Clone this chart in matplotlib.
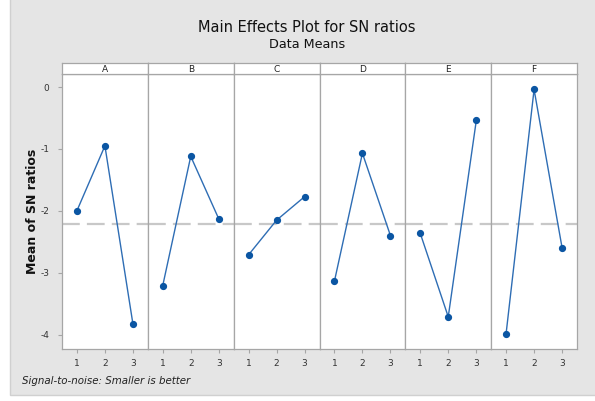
import numpy as np
import matplotlib.pyplot as plt
from matplotlib.patches import Rectangle

factors = ['A', 'B', 'C', 'D', 'E', 'F']
levels = [1, 2, 3]
sn_A = [-2.00, -0.95, -3.83]
sn_B = [-3.21, -1.12, -2.13]
sn_C = [-2.71, -2.15, -1.77]
sn_D = [-3.14, -1.07, -2.40]
sn_E = [-2.36, -3.71, -0.54]
sn_F = [-3.99, -0.04, -2.60]
yticks = [0, -1, -2, -3, -4]

series = [sn_A, sn_B, sn_C, sn_D, sn_E, sn_F]
grand_mean = np.mean(np.concatenate(series))

W, H = 595, 401
fig = plt.figure(figsize=(W / 100, H / 100), dpi=100)
fig.patch.set_facecolor('white')
# gray panel behind everything
fig.patches.append(Rectangle((10 / W, 6 / H), (W - 5) / W, (H + 5) / H,
                             transform=fig.transFigure, facecolor='#e5e5e5',
                             edgecolor='#d0d0d0', lw=1, zorder=-10))

x0, x1 = 62, 577
ytop, ybot, ystrip = 74, 349, 63
pw = (x1 - x0) / 6
line_c = '#2e6db4'
mark_c = '#0b56a3'
grid_c = '#a6a6a6'

for i, (name, vals) in enumerate(zip(factors, series)):
    left = x0 + i * pw
    ax = fig.add_axes([left / W, (H - ybot) / H, pw / W, (ybot - ytop) / H])
    ax.plot(levels, vals, color=line_c, lw=1, marker='o', ms=4.2,
            mfc=mark_c, mec=mark_c, zorder=3)
    ax.axhline(grand_mean, color='#c8c8c8', lw=1.6, ls=(0, (8, 3.2)), zorder=1)
    ax.set_xlim(0.47, 3.53)
    ax.set_ylim(-4.23, 0.21)
    ax.set_xticks(levels)
    ax.set_xticklabels([str(l) for l in levels], fontsize=6.5, color='#333333')
    ax.set_yticks(yticks)
    if i == 0:
        ax.set_yticklabels([str(t) for t in yticks], fontsize=6.5, color='#333333')
        ax.tick_params(axis='y', length=3, color=grid_c, pad=6)
    else:
        ax.tick_params(axis='y', length=0, labelleft=False)
    ax.tick_params(axis='x', length=3, color=grid_c, pad=4)
    for s in ax.spines.values():
        s.set_color(grid_c)
        s.set_linewidth(0.9)
    ax.set_facecolor('white')

    sx = fig.add_axes([left / W, (H - ytop) / H, pw / W, (ytop - ystrip) / H])
    sx.set_xticks([])
    sx.set_yticks([])
    sx.set_facecolor('white')
    for s in sx.spines.values():
        s.set_color(grid_c)
        s.set_linewidth(0.9)
    sx.text(0.5, 0.45, name, ha='center', va='center', fontsize=6.5,
            color='#222222', transform=sx.transAxes)

cx = 307 / W
fig.text(cx, 1 - 28 / H, 'Main Effects Plot for SN ratios', ha='center',
         va='center', fontsize=10.5, color='#111111')
fig.text(cx, 1 - 44 / H, 'Data Means', ha='center', va='center',
         fontsize=9.2, color='#111111')
fig.text(32 / W, 1 - 211 / H, 'Mean of SN ratios', rotation=90, ha='center',
         va='center', fontsize=9, fontweight='bold', color='#111111')
fig.text(22 / W, 1 - 381 / H, 'Signal-to-noise: Smaller is better',
         ha='left', va='center', fontsize=7.4, style='italic', color='#222222')

fig.savefig('out.png', dpi=100, facecolor=fig.get_facecolor())
